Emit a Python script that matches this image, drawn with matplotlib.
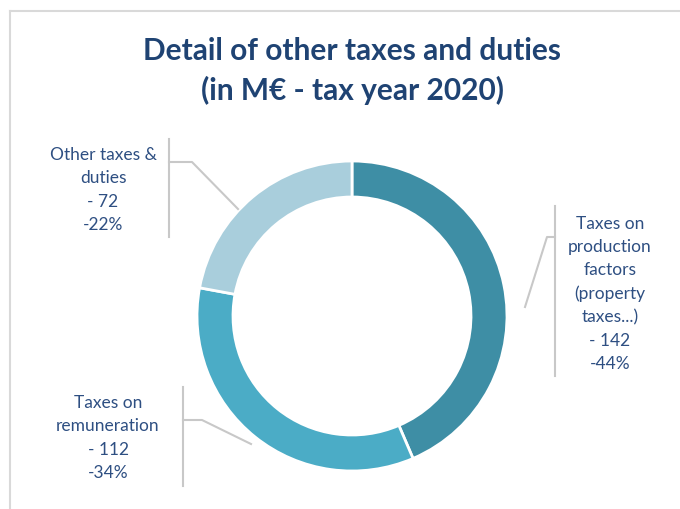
import matplotlib
matplotlib.use("Agg")
from matplotlib import pyplot as plt

# data
categories = ["Taxes on\nproduction\nfactors\n(property\ntaxes...)", "Taxes on\nremuneration", "Other taxes &\nduties"]
amounts = [142, 112, 72]
shares = [44, 34, 22]
colors = ["#3E8EA5", "#4BACC6", "#A9CEDC"]

H = 510


def Y(y):
    # pixel row -> data y
    return H - y


plt.rcParams['font.family'] = ['Lato', 'DejaVu Sans']

fig = plt.figure(figsize=(6.8, 5.1), dpi=100)
ax = fig.add_axes([0, 0, 1, 1])

ax.pie(amounts, radius=155, center=(352, Y(317)), startangle=90,
       counterclock=False, colors=colors,
       wedgeprops=dict(width=36, edgecolor="white", linewidth=2))
ax.set_xlim(0, 680)
ax.set_ylim(0, H)
ax.set_aspect("equal")
ax.axis("off")

# chart frame
frame_col = "#D9D9D9"
ax.plot([10, 680], [Y(12), Y(12)], color=frame_col, lw=1.5)
ax.plot([10, 10], [Y(12), 0], color=frame_col, lw=1.5)

title_col = "#1F4373"
ax.text(352, Y(60), "Detail of other taxes and duties", ha="center", va="baseline",
        fontsize=21.5, fontweight="bold", color=title_col)
ax.text(352, Y(100), "(in M\u20ac - tax year 2020)", ha="center", va="baseline",
        fontsize=21.5, fontweight="bold", color=title_col)

label_col = "#2E4F82"
line_col = "#C8C8C8"

# label positions (text centre x, block centre y), brackets and leaders
label_pos = [(610, 294), (108, 438), (103, 190)]
brackets = [(555, 207, 377), (183, 388, 487), (169, 140, 238)]
leaders = [[(555, 238), (547, 238), (525, 308)],
           [(183, 421), (202, 421), (251, 445)],
           [(169, 163), (192, 163), (238, 210)]]

for cat, amt, sh, (tx, ty), br, ld in zip(categories, amounts, shares, label_pos, brackets, leaders):
    txt = cat + "\n- " + str(amt) + "\n-" + str(sh) + "%"
    ax.text(tx, Y(ty), txt, ha="center", va="center", fontsize=12.5,
            color=label_col, linespacing=1.55)
    ax.plot([br[0], br[0]], [Y(br[1]), Y(br[2])], color=line_col, lw=1.5)
    ax.plot([p[0] for p in ld], [Y(p[1]) for p in ld], color=line_col, lw=1.5)

fig.savefig("out.png", dpi=100)
